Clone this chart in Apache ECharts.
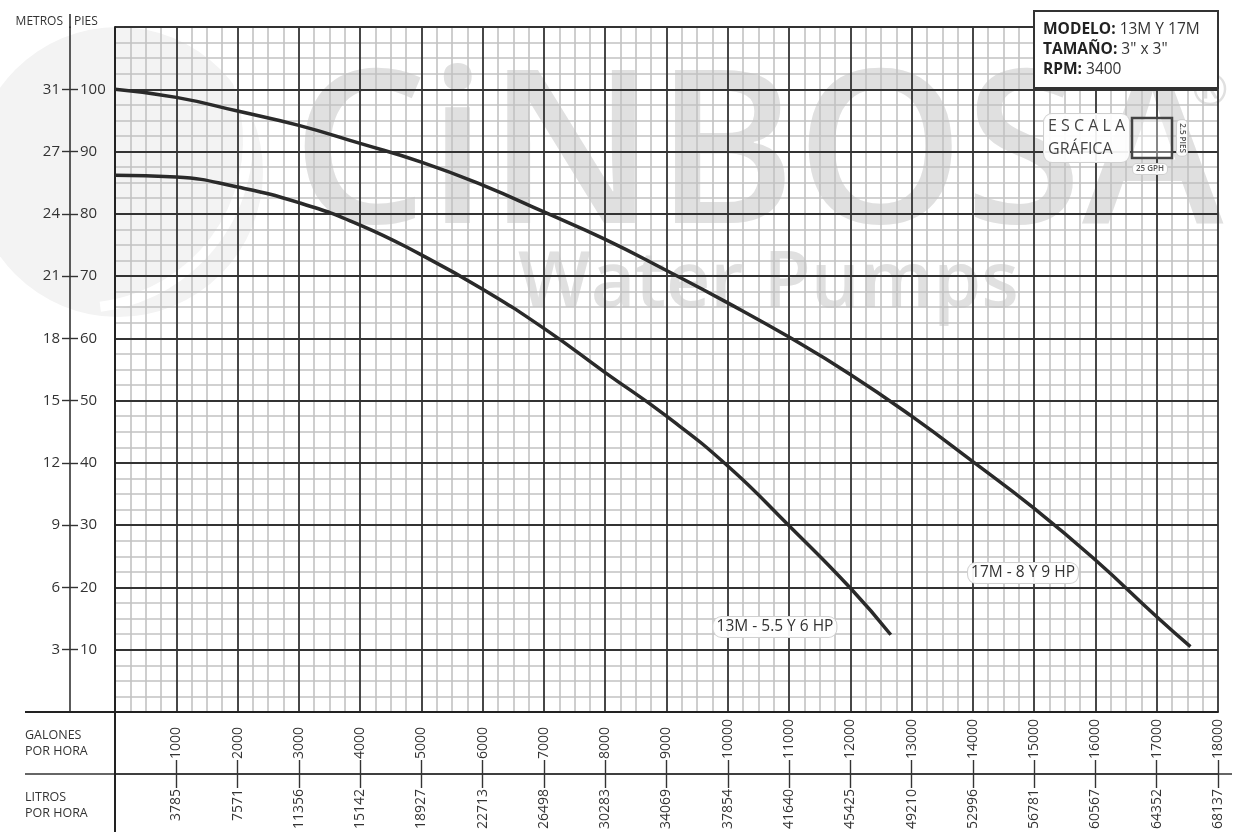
<!DOCTYPE html>
<html>
<head>
<meta charset="utf-8">
<script src="https://cdn.jsdelivr.net/npm/echarts@6/dist/echarts.min.js"></script>
<style>
html,body{margin:0;padding:0;background:#fff;}
#c{width:1235px;height:832px;}
</style>
</head>
<body>
<div id="c"></div>
<script>
// ---- data ----
const gph17 = [0,1000,2000,3000,4000,5000,6000,7000,8000,9000,10000,11000,12000,13000,14000,15000,16000,17000,17550];
const head17 = [100,98.7,96.5,94.2,91.3,88.3,84.6,80.3,75.9,70.9,65.7,60.2,54.2,47.5,40.2,32.7,24.4,15.3,10.5];
const gph13 = [0,1000,2000,3000,4000,5000,6000,7000,8000,9000,10000,11000,12000,12660];
const head13 = [86.2,85.9,84.3,81.8,78.2,73.4,67.9,61.6,54.5,47.5,39.5,29.9,19.9,12.4];
const gphTicks = [1000,2000,3000,4000,5000,6000,7000,8000,9000,10000,11000,12000,13000,14000,15000,16000,17000,18000];
const litrosTicks = ['3785','7571','11356','15142','18927','22713','26498','30283','34069','37854','41640','45425','49210','52996','56781','60567','64352','68137'];
const piesTicks = [10,20,30,40,50,60,70,80,90,100];
const metrosTicks = ['3','6','9','12','15','18','21','24','27','31'];
const seriesNames = ['13M - 5.5 Y 6 HP','17M - 8 Y 9 HP'];

const FONT = "'Open Sans', 'Noto Sans', sans-serif";
const dark = '#333';
const minorC = '#c2c2c2';

const chart = echarts.init(document.getElementById('c'));

const baseX = {type:'value', min:0, max:18000, interval:1000, position:'bottom'};
const baseY = {type:'value', min:0, max:110, interval:10, position:'left'};

const option = {
  backgroundColor:'#fff',
  animation:false,
  grid:{left:115, top:27, width:1103, height:685, containLabel:false},
  xAxis:[
    Object.assign({}, baseX, {z:0, axisLine:{show:false, onZero:false}, axisTick:{show:false}, axisLabel:{show:false},
      splitLine:{show:false}, minorTick:{show:false, splitNumber:4},
      minorSplitLine:{show:true, lineStyle:{color:minorC, width:1.6}}}),
    Object.assign({}, baseX, {z:1, axisLine:{show:true, onZero:false, lineStyle:{color:'#222', width:2}}, axisTick:{show:false}, axisLabel:{show:false},
      splitLine:{show:true, lineStyle:{color:dark, width:1.8}}}),
    Object.assign({}, baseX, {z:1, offset:62, axisLine:{show:true, onZero:false, lineStyle:{color:'#333', width:1.6}},
      axisTick:{show:true, customValues:gphTicks, length:14, lineStyle:{color:'#333', width:1.4}},
      axisLabel:{show:true, customValues:gphTicks, rotate:90, margin:15, fontFamily:FONT, fontSize:14, color:'#333',
        formatter:function(v){const i=gphTicks.indexOf(v); return i>=0?litrosTicks[i]:'';}},
      splitLine:{show:false}}),
    Object.assign({}, baseX, {z:1, offset:62, axisLine:{show:false, onZero:false},
      axisTick:{show:true, inside:true, customValues:gphTicks, length:14, lineStyle:{color:'#333', width:1.4}},
      axisLabel:{show:true, inside:true, customValues:gphTicks, rotate:90, margin:15, fontFamily:FONT, fontSize:14, color:'#333',
        formatter:function(v){return String(v);}},
      splitLine:{show:false}})
  ],
  yAxis:[
    Object.assign({}, baseY, {z:0, axisLine:{show:false, onZero:false}, axisTick:{show:false}, axisLabel:{show:false},
      splitLine:{show:false}, minorTick:{show:false, splitNumber:4},
      minorSplitLine:{show:true, lineStyle:{color:minorC, width:1.6}}}),
    Object.assign({}, baseY, {z:1, axisLine:{show:true, onZero:false, lineStyle:{color:'#222', width:2}}, axisTick:{show:false}, axisLabel:{show:false},
      splitLine:{show:true, lineStyle:{color:dark, width:1.8}}}),
    Object.assign({}, baseY, {z:1, offset:45, axisLine:{show:true, onZero:false, lineStyle:{color:'#333', width:1.6}},
      axisTick:{show:true, customValues:piesTicks, length:8, lineStyle:{color:'#333', width:1.4}},
      axisLabel:{show:true, customValues:piesTicks, margin:10, fontFamily:FONT, fontSize:15, color:'#333',
        formatter:function(v){const i=piesTicks.indexOf(v); return i>=0?metrosTicks[i]:'';}},
      splitLine:{show:false}}),
    Object.assign({}, baseY, {z:1, offset:45, axisLine:{show:false, onZero:false},
      axisTick:{show:true, inside:true, customValues:piesTicks, length:8, lineStyle:{color:'#333', width:1.4}},
      axisLabel:{show:true, inside:true, customValues:piesTicks, margin:10, fontFamily:FONT, fontSize:15, color:'#333',
        formatter:function(v){return String(v);}},
      splitLine:{show:false}})
  ],
  series:[
    {name:seriesNames[0], type:'line', xAxisIndex:1, yAxisIndex:1, smooth:0.5, symbol:'none', z:5,
      lineStyle:{color:'#2a2a2a', width:3.5}, data:gph13.map((g,i)=>[g,head13[i]])},
    {name:seriesNames[1], type:'line', xAxisIndex:1, yAxisIndex:1, smooth:0.5, symbol:'none', z:5,
      lineStyle:{color:'#2a2a2a', width:3.5}, data:gph17.map((g,i)=>[g,head17[i]])}
  ],
  graphic:[
    // faint logo (behind grid)
    {type:'circle', z:-20, silent:true, shape:{cx:118, cy:172, r:145}, style:{fill:'#f3f3f3'}},
    {type:'arc', z:-19, silent:true, shape:{cx:80, cy:140, r:168, startAngle:-0.35, endAngle:1.45}, style:{stroke:'#ffffff', lineWidth:10, fill:null}},
    // watermark (behind grid)
    {type:'text', z:-10, silent:true, style:{text:'CiNBOSA', x:292, y:162, font:"600 214px "+FONT, fill:'#e0e0e0', textVerticalAlign:'middle'}},
    {type:'text', z:-10, silent:true, style:{text:'Water Pumps', x:518, y:285, font:"600 77px "+FONT, fill:'#e0e0e0', textVerticalAlign:'middle'}},
    {type:'text', z:-10, silent:true, style:{text:'®', x:1210, y:92, font:"400 44px "+FONT, fill:'#e0e0e0', textAlign:'center', textVerticalAlign:'middle'}},
    // frame lines
    {type:'line', z:10, silent:true, shape:{x1:25, y1:712, x2:115, y2:712}, style:{stroke:'#222', lineWidth:2}},
    {type:'line', z:10, silent:true, shape:{x1:25, y1:774, x2:1232, y2:774}, style:{stroke:'#333', lineWidth:1.6}},
    {type:'line', z:10, silent:true, shape:{x1:115, y1:712, x2:115, y2:832}, style:{stroke:'#222', lineWidth:2}},
    {type:'line', z:10, silent:true, shape:{x1:70, y1:14, x2:70, y2:28}, style:{stroke:'#333', lineWidth:1.6}},
    // axis titles
    {type:'text', z:10, style:{text:'METROS', x:63, y:22, font:"400 12px "+FONT, fill:'#333', textAlign:'right', textVerticalAlign:'middle'}},
    {type:'text', z:10, style:{text:'PIES', x:74, y:22, font:"400 12px "+FONT, fill:'#333', textAlign:'left', textVerticalAlign:'middle'}},
    {type:'text', z:10, style:{text:'GALONES\nPOR HORA', x:25, y:743, font:"400 12.5px "+FONT, lineHeight:16, fill:'#333', textAlign:'left', textVerticalAlign:'middle'}},
    {type:'text', z:10, style:{text:'LITROS\nPOR HORA', x:25, y:805, font:"400 12.5px "+FONT, lineHeight:16, fill:'#333', textAlign:'left', textVerticalAlign:'middle'}},
    // model box
    {type:'rect', z:20, shape:{x:1034, y:11, width:184, height:77}, style:{fill:'#fff', stroke:'#333', lineWidth:2}},
    {type:'text', z:21, style:{text:'{b|MODELO:} 13M Y 17M\n{b|TAMAÑO:} 3" x 3"\n{b|RPM:} 3400', x:1043, y:50, font:"400 15.5px "+FONT, lineHeight:20, fill:'#333', textVerticalAlign:'middle',
      rich:{b:{fontWeight:'bold', fontFamily:FONT, fontSize:15.5, fill:'#222'}}}},
    // escala grafica
    {type:'text', z:21, style:{text:'E S C A L A\nGRÁFICA', x:1044, y:138, font:"400 16px "+FONT, lineHeight:23, fill:'#444', textVerticalAlign:'middle',
      backgroundColor:'rgba(255,255,255,0.92)', borderColor:'#d0d0d0', borderWidth:1, borderRadius:8, padding:[1,4]}},
    {type:'rect', z:21, shape:{x:1132, y:118, width:40, height:40}, style:{fill:'rgba(255,255,255,0.35)', stroke:'#444', lineWidth:2.5}},
    {type:'text', z:21, rotation:-Math.PI/2, x:1182, y:138, style:{text:'2.5 PIES', x:0, y:0, font:"600 8px "+FONT, fill:'#555', textAlign:'center', textVerticalAlign:'middle',
      backgroundColor:'rgba(255,255,255,0.92)', borderColor:'#d0d0d0', borderWidth:1, borderRadius:4, padding:[1,3]}},
    {type:'text', z:21, style:{text:'25 GPH', x:1150, y:169, font:"600 8px "+FONT, fill:'#555', textAlign:'center', textVerticalAlign:'middle',
      backgroundColor:'rgba(255,255,255,0.92)', borderColor:'#d0d0d0', borderWidth:1, borderRadius:4, padding:[1,3]}},
    // curve labels
    {type:'text', z:21, style:{text:seriesNames[0], x:775, y:627, font:"400 15.5px "+FONT, fill:'#333', textAlign:'center', textVerticalAlign:'middle',
      backgroundColor:'rgba(255,255,255,0.95)', borderColor:'#d0d0d0', borderWidth:1, borderRadius:8, padding:[2,3]}},
    {type:'text', z:21, style:{text:seriesNames[1], x:1023, y:573, font:"400 15.5px "+FONT, fill:'#333', textAlign:'center', textVerticalAlign:'middle',
      backgroundColor:'rgba(255,255,255,0.95)', borderColor:'#d0d0d0', borderWidth:1, borderRadius:8, padding:[2,3]}}
  ]
};
chart.setOption(option);
</script>
</body>
</html>
